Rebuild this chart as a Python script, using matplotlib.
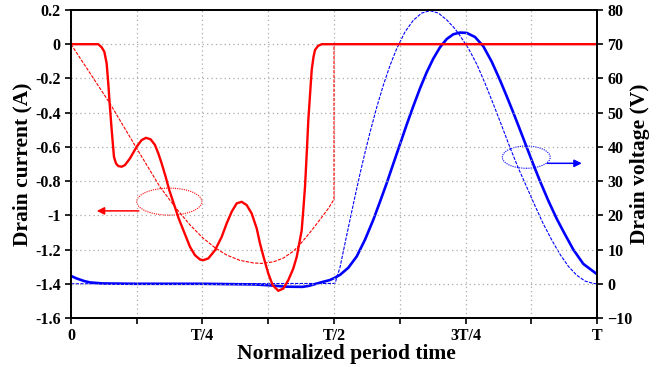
import numpy as np
import matplotlib
matplotlib.use("Agg")
import matplotlib.pyplot as plt
from matplotlib.patches import Ellipse

plt.rcParams['font.family'] = ['Liberation Serif', 'DejaVu Serif']
plt.rcParams['font.weight'] = 'bold'

# time in fractions of the period T
i_t = [0, 0.0519, 0.0583, 0.0634, 0.0678, 0.0709, 0.0735, 0.0774, 0.0817, 0.0856, 0.0899,
       0.0963, 0.1027, 0.1122, 0.1249, 0.1344, 0.1426, 0.1515, 0.1597, 0.166, 0.1724,
       0.18, 0.1869, 0.205, 0.2262, 0.2357, 0.2452, 0.2515, 0.261, 0.2738, 0.2865, 0.296,
       0.3055, 0.315, 0.3245, 0.334, 0.3435, 0.3531, 0.3593, 0.3669, 0.3751, 0.3834,
       0.3941, 0.4036, 0.4131, 0.4226, 0.4291, 0.434, 0.4386, 0.4416, 0.4449, 0.448,
       0.4512, 0.4576, 0.461, 0.4639, 0.4696, 0.4766, 1.0]
i_sim = [0, 0, -0.018, -0.044, -0.112, -0.229, -0.346, -0.502, -0.658, -0.697, -0.712,
         -0.716, -0.706, -0.667, -0.599, -0.560, -0.547, -0.556, -0.589, -0.638, -0.697,
         -0.775, -0.853, -1.02, -1.184, -1.233, -1.258, -1.262, -1.252, -1.204, -1.126, -1.047,
         -0.979, -0.930, -0.921, -0.940, -0.989, -1.077, -1.164, -1.252, -1.340, -1.408,
         -1.441, -1.428, -1.379, -1.311, -1.243, -1.164, -1.087, -0.970, -0.833, -0.648,
         -0.443, -0.151, -0.075, -0.034, -0.010, 0, 0]

# ideal drain current (thin dashed)
i_id_t = [0, 0.074, 0.125, 0.169, 0.2, 0.226, 0.25, 0.274, 0.296, 0.321, 0.3466, 0.3625,
          0.3846, 0.4036, 0.4226, 0.4354, 0.4544, 0.4734, 0.4892, 0.5, 0.5, 1.0]
i_ideal = [0, -0.346, -0.609, -0.833, -0.96, -1.055, -1.13, -1.19, -1.232, -1.263, -1.278,
           -1.281, -1.272, -1.25, -1.21, -1.17, -1.10, -1.025, -0.96, -0.907, 0, 0]

# drain voltage (V)
v_t = [0, 0.010, 0.025, 0.036, 0.06, 0.12, 0.25, 0.35, 0.377, 0.41, 0.44, 0.4525, 0.475,
       0.4924, 0.5019, 0.5114, 0.5273, 0.5432, 0.559, 0.5747, 0.5875, 0.6002, 0.6128,
       0.6255, 0.6382, 0.6508, 0.6635, 0.6762, 0.6888, 0.7015, 0.7142, 0.7268, 0.7395,
       0.7523, 0.7681, 0.7838, 0.7998, 0.8156, 0.8283, 0.8409, 0.8536, 0.8663, 0.8789,
       0.8916, 0.9074, 0.9234, 0.9392, 0.9549, 0.974, 1.0]
v_sim = [2.3, 1.6, 0.8, 0.4, 0.1, 0, 0, -0.2, -0.45, -0.85, -0.9, -0.6, 0.4,
         1.1, 1.8, 2.6, 4.7, 8.0, 12.9, 18.7, 24.0, 29.4, 35.1,
         40.8, 46.5, 51.9, 57.1, 61.8, 65.8, 69.1, 71.5, 72.9, 73.4,
         73.3, 72.1, 69.4, 64.9, 59.5, 54.8, 50.0, 45.0, 39.9, 34.9,
         30.0, 24.3, 19.0, 14.4, 10.0, 5.8, 2.8]

v_id_t = [0, 0.5019, 0.5114, 0.5209, 0.5304, 0.5399, 0.5494, 0.5589, 0.5684, 0.5811,
          0.5937, 0.6065, 0.6192, 0.635, 0.6508, 0.6667, 0.6825, 0.6983, 0.7143, 0.730,
          0.7395, 0.7554, 0.7713, 0.7871, 0.8029, 0.8188, 0.8346, 0.8504, 0.8663, 0.8821,
          0.8979, 0.9139, 0.9297, 0.9455, 0.9614, 0.9772, 0.993, 1.0]
v_ideal = [0, 0.1, 4.8, 11.8, 18.7, 25.5, 32.1, 38.3, 44.2, 51.5,
           58.0, 63.8, 68.7, 73.6, 77.0, 79.1, 79.8, 79.1, 77.1, 74.5,
           72.5, 68.8, 64.2, 58.6, 52.5, 46.2, 39.8, 33.8, 28.3, 22.8,
           17.5, 12.8, 8.6, 5.1, 2.5, 0.8, 0.1, 0]

xtick_pos = [0, 0.25, 0.5, 0.75, 1.0]
xtick_lab = ['0', 'T/4', 'T/2', '3T/4', 'T']

fig = plt.figure(figsize=(6.69, 3.67), dpi=100)
ax = fig.add_axes([0.1061, 0.1335, 0.7863, 0.8393])
ax2 = ax.twinx()
ax.set_zorder(ax2.get_zorder() + 1)
ax.patch.set_visible(False)

# voltage on the right axis
ax2.plot(v_id_t, v_ideal, color='blue', lw=0.8, dashes=(3, 1.2))
ax2.plot(v_t, v_sim, color='blue', lw=1.9)
ax2.set_ylim(-10, 80)
ax2.set_yticks(range(-10, 81, 10))
ax2.set_ylabel('Drain voltage (V)', fontsize=15.5, fontweight='bold', labelpad=-2)

# current on the left axis
ax.plot(i_id_t, i_ideal, color='red', lw=0.8, dashes=(3, 1.2))
ax.plot(i_t, i_sim, color='red', lw=1.7)
ax.set_xlim(0, 1)
ax.set_ylim(-1.6, 0.2)
ax.set_yticks(np.arange(-1.6, 0.21, 0.2))
ax.set_yticklabels(['-1.6', '-1.4', '-1.2', '-1', '-0.8', '-0.6', '-0.4', '-0.2', '0', '0.2'])
ax.set_xticks(xtick_pos)
ax.set_xticklabels(xtick_lab)
ax.set_xticks([0.125, 0.375, 0.625, 0.875], minor=True)
ax.set_ylabel('Drain current (A)', fontsize=15.5, fontweight='bold', labelpad=2)
ax.set_xlabel('Normalized period time', fontsize=15.5, fontweight='bold')
ax.xaxis.set_label_coords(0.524, -0.085)

ax.grid(True, which='both', axis='x', color='#aaaaaa', ls=(0, (1, 2.5)), lw=0.9)
ax.grid(True, which='major', axis='y', color='#aaaaaa', ls=(0, (1, 2.5)), lw=0.9)

for a in (ax, ax2):
    a.tick_params(which='both', direction='out', length=4, width=1.2, labelsize=11.5)
    for s in a.spines.values():
        s.set_linewidth(1.3)
ax.tick_params(which='minor', length=4)

# annotations: ellipses and arrows
ax.add_patch(Ellipse((0.187, -0.92), 0.124, 0.158, fill=False, ec='red', lw=0.8,
                     ls=(0, (1, 1))))
ax.annotate('', xy=(0.049, -0.974), xytext=(0.129, -0.974),
            arrowprops=dict(arrowstyle='-|>', color='red', lw=1.1,
                            mutation_scale=11, shrinkA=0, shrinkB=0))
ax2.add_patch(Ellipse((0.8654, 37.0), 0.091, 6.5, fill=False, ec='blue', lw=0.8,
                      ls=(0, (1, 1))))
ax2.annotate('', xy=(0.971, 35.2), xytext=(0.9055, 35.2),
             arrowprops=dict(arrowstyle='-|>', color='blue', lw=1.1,
                             mutation_scale=11, shrinkA=0, shrinkB=0))

fig.savefig('out.png', dpi=100)
